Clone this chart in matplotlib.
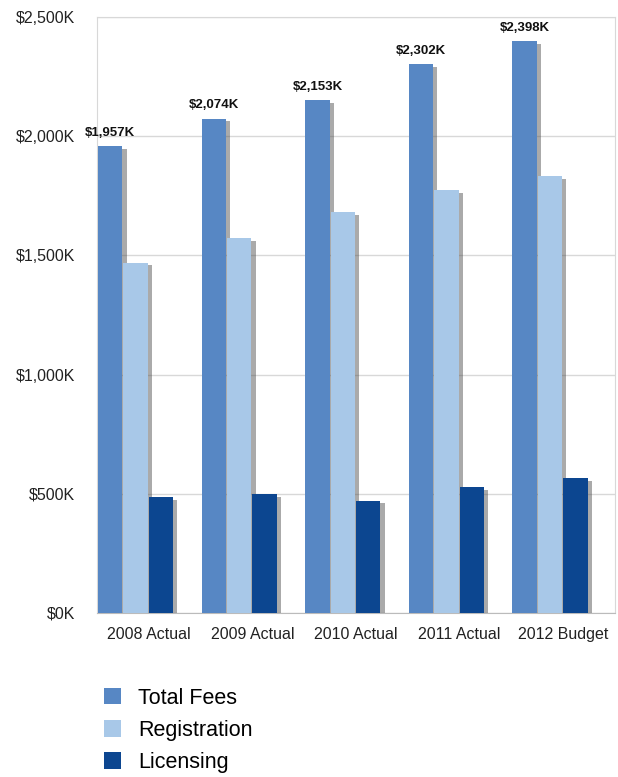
import matplotlib
matplotlib.use("Agg")
import matplotlib.pyplot as plt
import matplotlib.patheffects as pe
from matplotlib.patches import Patch
import numpy as np

plt.rcParams["font.family"] = ["Liberation Sans", "DejaVu Sans"]

categories = ["2008 Actual", "2009 Actual", "2010 Actual", "2011 Actual", "2012 Budget"]
total_fees = [1957, 2074, 2153, 2302, 2398]
registration = [1470, 1574, 1682, 1773, 1831]
licensing = [487, 500, 471, 529, 567]
series_names = ["Total Fees", "Registration", "Licensing"]
colors = ["#5787c4", "#a8c8e8", "#0c4690"]
yticks = [0, 500, 1000, 1500, 2000, 2500]

W, H = 618, 777
fig = plt.figure(figsize=(W / 100, H / 100), dpi=100)
ax = fig.add_axes([97 / W, 1 - 613 / H, (615 - 97) / W, (613 - 17) / H])

x = np.arange(len(categories))
bw = 0.235
offsets = [0.01, 0.255, 0.50]
shadow = [pe.SimplePatchShadow(offset=(3, -2), shadow_rgbFace="#444444", alpha=0.45), pe.Normal()]
for vals, off, c in zip([total_fees, registration, licensing], offsets, colors):
    bars = ax.bar(x - 0.5 + off, vals, width=bw, align="edge", color=c, zorder=3)
    for b in bars:
        b.set_path_effects(shadow)

for xi, v in zip(x, total_fees):
    ax.text(xi - 0.5 + offsets[0] + bw / 2, v + 30, f"${v:,}K", ha="center", va="bottom",
            fontsize=9.5, fontweight="bold", color="#111111", zorder=4)

ax.set_xlim(-0.5, 4.5)
ax.set_ylim(0, 2500)
ax.set_yticks(yticks)
ax.set_yticklabels([f"${t:,}K" for t in yticks])
ax.set_xticks(x)
ax.set_xticklabels(categories)
ax.tick_params(axis="both", length=0, labelsize=11.5, colors="#222222")
ax.tick_params(axis="y", pad=15.5)
ax.tick_params(axis="x", pad=10)
ax.grid(axis="y", color="#d8d8d8", linewidth=1, zorder=0)
for s in ["left", "top", "right", "bottom"]:
    ax.spines[s].set_color("#d8d8d8")
ax.spines["bottom"].set_color("#bbbbbb")

handles = [Patch(facecolor=c, edgecolor="none") for c in colors]
fig.legend(handles, series_names, loc="upper left", bbox_to_anchor=(95 / W, 1 - 679 / H),
           frameon=False, fontsize=15.5, handlelength=0.8, handleheight=0.8,
           labelspacing=0.52, handletextpad=0.8, borderaxespad=0)

fig.savefig("out.png", dpi=100)
